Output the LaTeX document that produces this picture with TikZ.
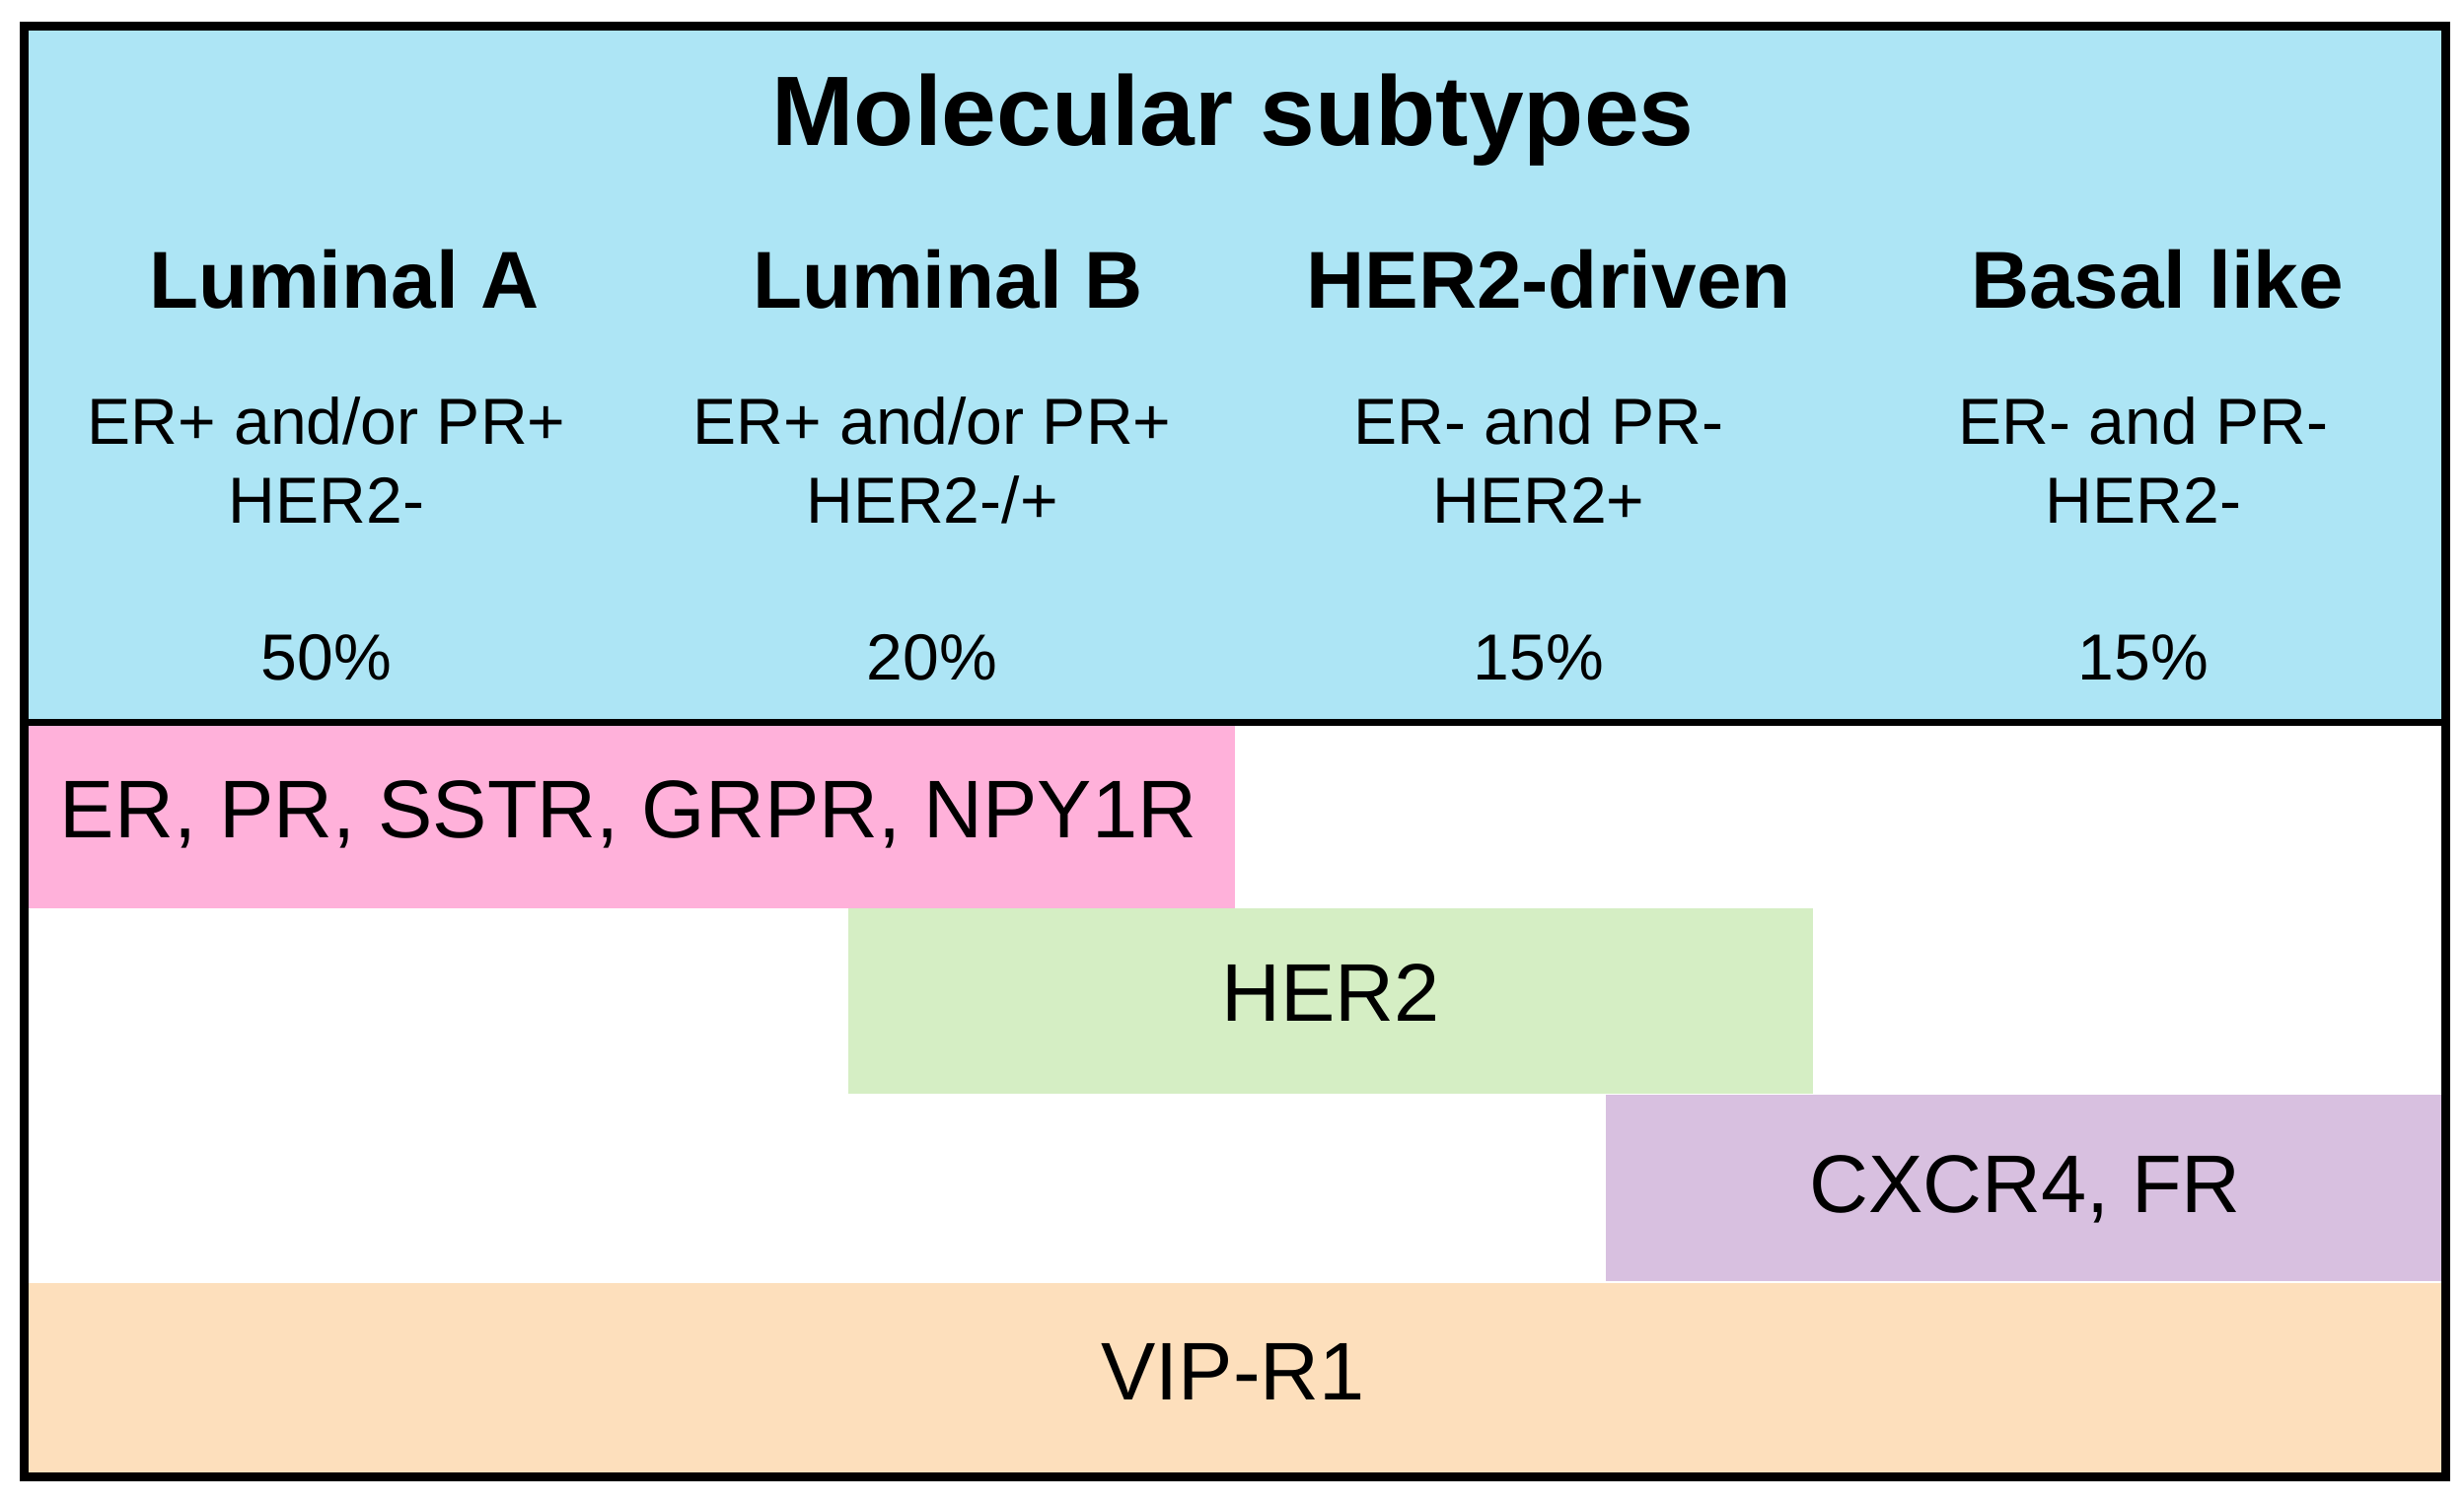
\documentclass[tikz,border=0pt]{standalone}
\usepackage{fontspec}
\setmainfont{Liberation Sans}
\usetikzlibrary{positioning}
\definecolor{subblue}{RGB}{173,229,245}
\definecolor{erpink}{RGB}{255,177,218}
\definecolor{hergreen}{RGB}{213,238,196}
\definecolor{cxpurple}{RGB}{216,192,224}
\definecolor{viporange}{RGB}{253,223,188}
\tikzset{
    maintitle/.style={anchor=base,font=\fontsize{28.5}{34}\selectfont\bfseries},
    subhead/.style={anchor=base,font=\fontsize{23.3}{28}\selectfont\bfseries},
    subinfo/.style={anchor=base,font=\fontsize{18.8}{22}\selectfont},
    bandtext/.style={anchor=base,font=\fontsize{23.6}{28}\selectfont},
}

\begin{document}
\begin{tikzpicture}
    \useasboundingbox[fill=white] (0,0) rectangle (24.98,-15.23);
    \fill[subblue] (0.245,-0.26) rectangle (24.795,-7.32);
    \fill[erpink] (0.28,-7.35) rectangle (12.52,-9.21);
    \fill[hergreen] (8.60,-9.21) rectangle (18.38,-11.09);
    \fill[cxpurple] (16.28,-11.10) rectangle (24.795,-12.99);
    \fill[viporange] (0.245,-13.01) rectangle (24.795,-14.975);
    \draw[line width=0.07cm] (0.245,-7.32) -- (24.795,-7.32);
    \draw[line width=0.09cm] (0.245,-0.26) rectangle (24.795,-14.975);

    \node[maintitle] (title) at (12.50,-1.47) {Molecular subtypes};

    \node[subhead] (lumA) at (3.49,-3.12) {Luminal A};
    \node[subhead] (lumB) at (9.61,-3.12) {Luminal B};
    \node[subhead] (her) at (15.70,-3.12) {HER2-driven};
    \node[subhead] (basal) at (21.87,-3.12) {Basal like};

    \node[subinfo] (lumAer) at (3.31,-4.50) {ER+ and/or PR+};
    \node[subinfo] (lumAher) at (3.31,-5.30) {HER2-};
    \node[subinfo] (lumAp) at (3.31,-6.89) {50\%};
    \node[subinfo] (lumBer) at (9.45,-4.50) {ER+ and/or PR+};
    \node[subinfo] (lumBher) at (9.45,-5.30) {HER2-/+};
    \node[subinfo] (lumBp) at (9.45,-6.89) {20\%};
    \node[subinfo] (herer) at (15.60,-4.50) {ER- and PR-};
    \node[subinfo] (herher) at (15.60,-5.30) {HER2+};
    \node[subinfo] (herp) at (15.60,-6.89) {15\%};
    \node[subinfo] (basaler) at (21.73,-4.50) {ER- and PR-};
    \node[subinfo] (basalher) at (21.73,-5.30) {HER2-};
    \node[subinfo] (basalp) at (21.73,-6.89) {15\%};

    \node[bandtext] (erband) at (6.37,-8.49) {ER, PR, SSTR, GRPR, NPY1R};
    \node[bandtext] (herband) at (13.49,-10.35) {HER2};
    \node[bandtext] (cxband) at (20.53,-12.29) {CXCR4, FR};
    \node[bandtext] (vipband) at (12.50,-14.19) {VIP-R1};
\end{tikzpicture}
\end{document}
